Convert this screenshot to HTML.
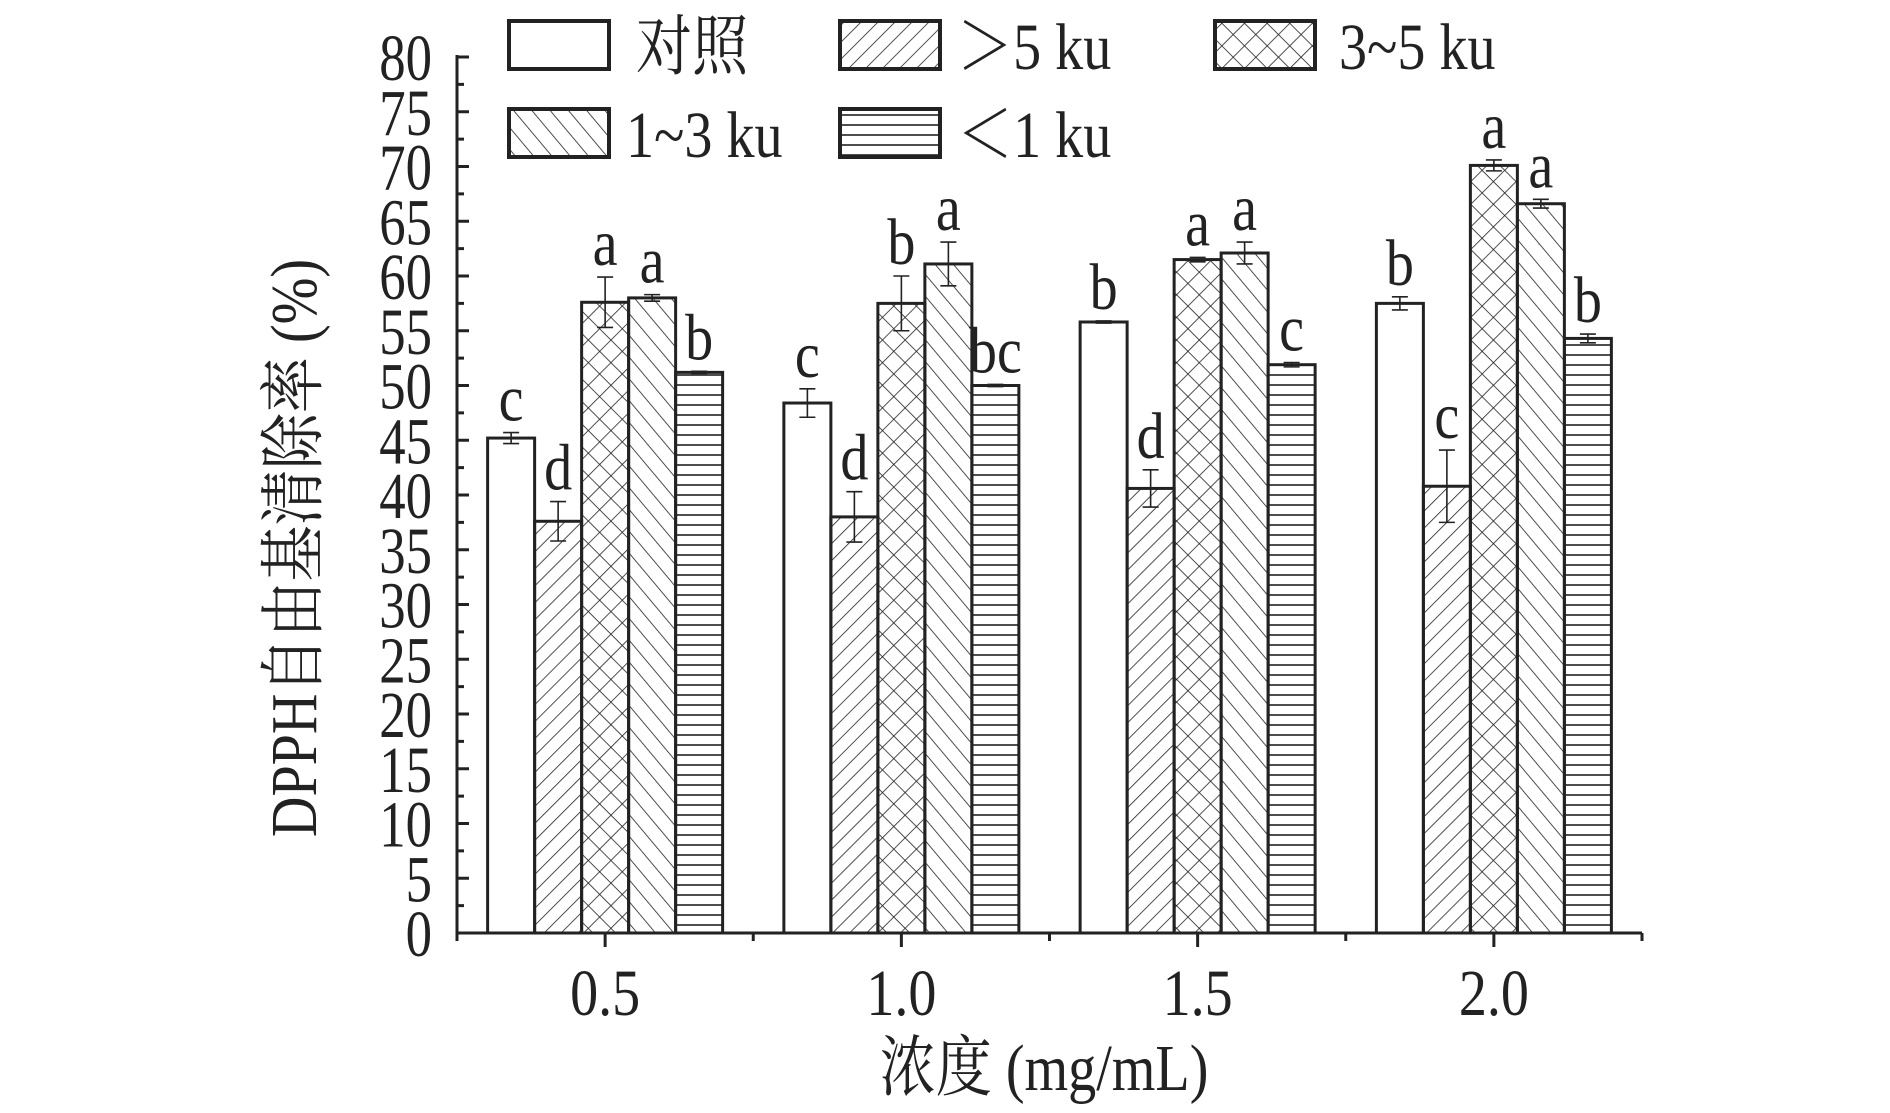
<!DOCTYPE html>
<html><head><meta charset="utf-8"><style>
html,body{margin:0;padding:0;background:#fff}
svg{display:block}
text{font-family:"Liberation Serif","Noto Serif CJK SC",serif;fill:#222}
</style></head><body>
<svg id="chart" width="1890" height="1113" viewBox="0 0 1890 1113" xmlns="http://www.w3.org/2000/svg">
<defs>
<pattern id="p-fwd" patternUnits="userSpaceOnUse" width="12" height="12" patternTransform="rotate(45)"><line x1="0" y1="0" x2="0" y2="12" stroke="#222" stroke-width="1.6"/></pattern>
<pattern id="p-back" patternUnits="userSpaceOnUse" width="14" height="14" patternTransform="rotate(-40)"><line x1="0" y1="0" x2="0" y2="14" stroke="#222" stroke-width="1.6"/></pattern>
<pattern id="p-cross" patternUnits="userSpaceOnUse" width="16" height="16" patternTransform="rotate(45)"><line x1="0" y1="0" x2="0" y2="16" stroke="#222" stroke-width="1.6"/><line x1="0" y1="0" x2="16" y2="0" stroke="#222" stroke-width="1.6"/></pattern>
<pattern id="p-horiz" patternUnits="userSpaceOnUse" width="10" height="10"><line x1="0" y1="5" x2="10" y2="5" stroke="#222" stroke-width="1.6"/></pattern>
</defs>
<g id="plot"></g>
<g id="legend"></g>
</svg>
<script>
const categories = ["0.5","1.0","1.5","2.0"];
const catValues = [0.5,1.0,1.5,2.0];
const seriesNames = ["对照","＞5 ku","3~5 ku","1~3 ku","＜1 ku"];
const control = [45.2,48.4,55.8,57.5];
const over5 = [37.6,38.0,40.6,40.8];
const k3to5 = [57.6,57.5,61.5,70.1];
const k1to3 = [58.0,61.1,62.1,66.6];
const under1 = [51.2,50.0,51.9,54.3];
const errControl = [0.5,1.3,0.1,0.6];
const errOver5 = [1.8,2.3,1.7,3.3];
const err3to5 = [2.3,2.5,0.2,0.5];
const err1to3 = [0.3,2.0,1.0,0.4];
const errUnder1 = [0.1,0.1,0.2,0.4];
const lettersControl = ["c","c","b","b"];
const lettersOver5 = ["d","d","d","c"];
const letters3to5 = ["a","b","a","a"];
const letters1to3 = ["a","a","a","a"];
const lettersUnder1 = ["b","bc","c","b"];
const yTicks = [0,5,10,15,20,25,30,35,40,45,50,55,60,65,70,75,80];

const NS="http://www.w3.org/2000/svg";
const plot=document.getElementById('plot');
const legend=document.getElementById('legend');
const X0=457, X1=1642, Y0=933, Y80=57;
const xs=v=>X0+(v-0.25)/2.0*(X1-X0);
const ys=v=>Y0-(v/80)*(Y0-Y80);
const BW=47;
function mk(tag,attrs,parent){const e=document.createElementNS(NS,tag);for(const k in attrs)e.setAttribute(k,attrs[k]);parent.appendChild(e);return e;}
function txt(x,y,size,anchor,parent,sx){return mk('text',{x:0,y:0,'font-size':size,'text-anchor':anchor,transform:'translate('+x+','+y+') scale('+(sx||0.82)+',1)'},parent);}

const series=[
 {vals:control,err:errControl,let:lettersControl,fill:"#fff",key:"control"},
 {vals:over5,err:errOver5,let:lettersOver5,fill:"url(#p-fwd)",key:"over-5ku"},
 {vals:k3to5,err:err3to5,let:letters3to5,fill:"url(#p-cross)",key:"3-5ku"},
 {vals:k1to3,err:err1to3,let:letters1to3,fill:"url(#p-back)",key:"1-3ku"},
 {vals:under1,err:errUnder1,let:lettersUnder1,fill:"url(#p-horiz)",key:"under-1ku"}
];

series.forEach((s,si)=>{
 catValues.forEach((c,ci)=>{
  const x=xs(c)+(si-2)*BW-BW/2;
  const v=s.vals[ci], top=ys(v);
  const r=mk('rect',{x:x,y:top,width:BW,height:Y0-top,fill:s.fill,stroke:'#222','stroke-width':3},plot);
  
  
  const cx=x+BW/2, e=s.err[ci];
  const eg=mk('g',{stroke:'#222','stroke-width':1.6},plot);
  
  
  mk('line',{x1:cx,x2:cx,y1:ys(v+e),y2:ys(v-e)},eg);
  mk('line',{x1:cx-8,x2:cx+8,y1:ys(v+e),y2:ys(v+e)},eg);
  mk('line',{x1:cx-8,x2:cx+8,y1:ys(v-e),y2:ys(v-e)},eg);
  const t=txt(cx,ys(v+e)-12,66,'middle',plot,0.85);
  t.textContent=s.let[ci];
  
  
 });
});

// axes
const ax=mk('g',{stroke:'#222','stroke-width':3},plot);


mk('line',{x1:X0,x2:X0,y1:Y80-2,y2:Y0+1},ax);
mk('line',{x1:X0,x2:X1,y1:Y0,y2:Y0},ax);
yTicks.forEach(v=>{
 mk('line',{x1:X0,x2:X0+12,y1:ys(v),y2:ys(v)},ax);
 if(v<80) mk('line',{x1:X0,x2:X0+7,y1:ys(v+2.5),y2:ys(v+2.5)},ax);
 const t=txt(X0-25,ys(v)+23,66,'end',plot,0.8);
 t.textContent=v;
 
 
});
[0.25,0.75,1.25,1.75,2.25].forEach(v=>mk('line',{x1:xs(v),x2:xs(v),y1:Y0,y2:Y0+8},ax));
catValues.forEach((c,ci)=>{
 mk('line',{x1:xs(c),x2:xs(c),y1:Y0,y2:Y0+14},ax);
 const t=txt(xs(c),1015,66,'middle',plot,0.85);
 t.textContent=categories[ci];
 
 
});
const xt=txt(1044,1090,66,'middle',plot,0.85);
xt.textContent='浓度 (mg/mL)';


const yt=mk('text',{x:0,y:0,'font-size':66,'text-anchor':'middle',transform:'translate(316,548) rotate(-90) scale(0.85,1)'},plot);
yt.textContent='DPPH自由基清除率 (%)';



// legend
const legPos=[[509,21,636],[840,21,957],[1215,21,1339],[509,109,626],[840,109,957]];
series.forEach((s,si)=>{
 const [bx,by,tx]=legPos[si];
 const g=mk('g',{},legend);
 
 
 mk('rect',{x:bx,y:by,width:100,height:48,fill:s.fill,stroke:'#222','stroke-width':4},g);
 const t=txt(tx,by+48,66,'start',g,0.85);
 t.textContent=seriesNames[si];
});
</script>
</body></html>
